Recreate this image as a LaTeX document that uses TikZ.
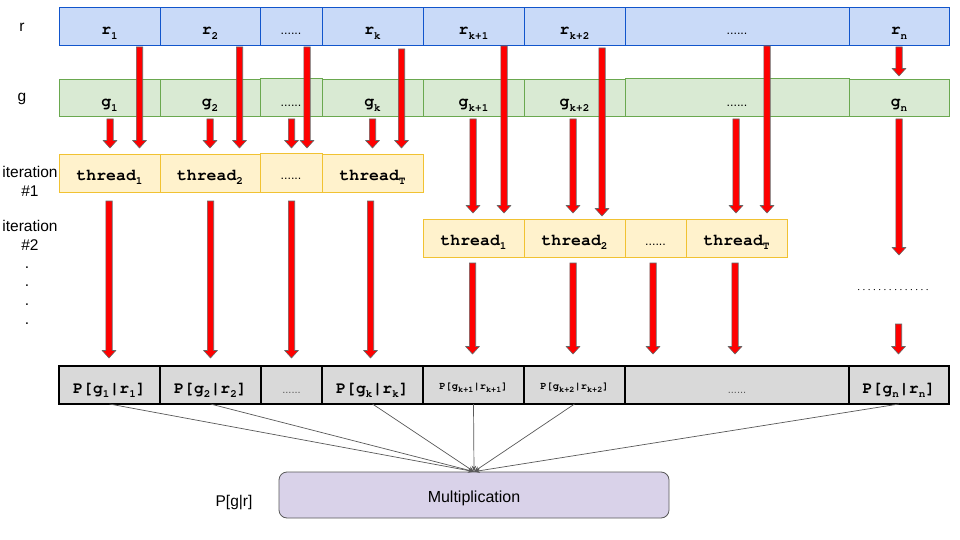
\documentclass[tikz,border=0pt]{standalone}
\usepackage[T1]{fontenc}
\usepackage{fontspec}
\setmainfont{Liberation Sans}
\newcommand\cour{\fontencoding{T1}\fontfamily{pcr}\fontseries{b}\fontshape{n}}
\newcommand\courm{\fontencoding{T1}\fontfamily{pcr}\fontseries{m}\fontshape{n}}
\usetikzlibrary{arrows.meta}
\definecolor{rfill}{HTML}{C9DAF8}
\definecolor{rdraw}{HTML}{1155CC}
\definecolor{gfill}{HTML}{D9EAD3}
\definecolor{gdraw}{HTML}{6AA84F}
\definecolor{tfill}{HTML}{FFF2CC}
\definecolor{tdraw}{HTML}{F1C232}
\definecolor{pfill}{HTML}{D9D9D9}
\definecolor{mfill}{HTML}{D9D2E9}
\definecolor{mdraw}{HTML}{595959}
\definecolor{cgray}{HTML}{595959}
\definecolor{agray}{HTML}{666666}
\newcommand\cs[2]{#1\raisebox{-4.5pt}{\fontsize{11}{11}\selectfont #2}}
\newcommand\css[2]{#1\raisebox{-3pt}{\fontsize{8.5}{8.5}\selectfont #2}}
\newcommand\cell[7]{\node[#6, minimum width={(#3-#2)*1pt}, minimum height={(#5-#4)*1pt}] (#1) at ({(#2+#3)/2},{(#4+#5)/2}) {#7};}
\newcommand\redarr[3]{\filldraw[redarrow] ({#1-3.2},#2) -- ({#1+3.2},#2) -- ({#1+3.2},{#3-7.5}) -- ({#1+6.8},{#3-7.5}) -- (#1,#3) -- ({#1-6.8},{#3-7.5}) -- ({#1-3.2},{#3-7.5}) -- cycle;}
\tikzset{
  basecell/.style={inner sep=0pt, outer sep=0pt, line width=0.9pt, text depth=0pt, font=\cour\fontsize{16.5}{16.5}\selectfont},
  cellr/.style={basecell, fill=rfill, draw=rdraw, text height=18pt},
  cellg/.style={basecell, fill=gfill, draw=gdraw, text height=19pt},
  cellt/.style={basecell, fill=tfill, draw=tdraw, text height=14pt},
  cellp/.style={basecell, fill=pfill, draw=black, line width=1.1pt, text height=16pt},
  smallp/.style={font=\cour\fontsize{10.5}{10.5}\selectfont, text height=9pt},
  dotsf/.style={font=\fontsize{12.5}{13}\selectfont},
  pdots/.style={font=\fontsize{11}{12}\selectfont, text=black!65},
  lbl/.style={font=\fontsize{15.5}{16}\selectfont, inner sep=0pt, anchor=base},
  redarrow/.style={fill=red, draw=agray, line width=0.6pt},
  conn/.style={draw=cgray, line width=0.7pt, -{Stealth[length=6pt,width=4.5pt]}}
}
\begin{document}
\begin{tikzpicture}[x=1pt,y=-1pt]
\useasboundingbox[fill=white] (0,0) rectangle (960,540);
% left labels
\node[lbl] (lr) at (22,31.7) {r};
\node[lbl] (lg) at (22,102) {g};
\node[lbl] (it1a) at (30,178) {iteration};
\node[lbl] (it1b) at (30,196.7) {\#1};
\node[lbl] (it2a) at (30,231.7) {iteration};
\node[lbl] (it2b) at (30,250) {\#2};
\node[lbl] (d1) at (27,268) {.};
\node[lbl] (d2) at (27,286) {.};
\node[lbl] (d3) at (27,305) {.};
\node[lbl] (d4) at (27,324) {.};
% r row
\cell{r1}{59}{160}{7}{45}{cellr}{\cs{r}{1}}
\cell{r2}{160}{260}{7}{45}{cellr}{\cs{r}{2}}
\cell{r3}{260}{322}{7}{45}{cellr,dotsf}{......}
\cell{rk}{322}{423}{7}{45}{cellr}{\cs{r}{k}}
\cell{rk1}{423}{524}{7}{45}{cellr}{\cs{r}{k+1}}
\cell{rk2}{524}{625}{7}{45}{cellr}{\cs{r}{k+2}}
\cell{r7}{625}{849}{7}{45}{cellr,dotsf}{......}
\cell{rn}{849}{949}{7}{45}{cellr}{\cs{r}{n}}
% g row
\cell{g1}{59}{160}{79}{116}{cellg}{\cs{g}{1}}
\cell{g2}{160}{260}{79}{116}{cellg}{\cs{g}{2}}
\cell{g3}{260}{322}{78}{116}{cellg,dotsf}{......}
\cell{gk}{322}{423}{79}{116}{cellg}{\cs{g}{k}}
\cell{gk1}{423}{524}{79}{116}{cellg}{\cs{g}{k+1}}
\cell{gk2}{524}{625}{79}{116}{cellg}{\cs{g}{k+2}}
\cell{g7}{625}{849}{78}{116}{cellg,dotsf}{......}
\cell{gn}{849}{949}{79}{116}{cellg}{\cs{g}{n}}
% thread row 1
\cell{ta1}{59}{160}{154}{192}{cellt}{\cs{thread}{1}}
\cell{ta2}{160}{260}{154}{192}{cellt}{\cs{thread}{2}}
\cell{ta3}{260}{322}{153}{192}{cellt,dotsf}{......}
\cell{taT}{322}{423}{154}{192}{cellt}{\cs{thread}{T}}
% thread row 2
\cell{tb1}{423}{524}{219}{257}{cellt}{\cs{thread}{1}}
\cell{tb2}{524}{625}{219}{257}{cellt}{\cs{thread}{2}}
\cell{tb3}{625}{686}{219}{257}{cellt,dotsf}{......}
\cell{tbT}{686}{787}{219}{257}{cellt}{\cs{thread}{T}}
% P row
\cell{p1}{59}{160}{366}{404}{cellp}{P[\cs{g}{1}|\cs{r}{1}]}
\cell{p2}{160}{261}{366}{404}{cellp}{P[\cs{g}{2}|\cs{r}{2}]}
\cell{p3}{261}{322}{366}{404}{cellp,pdots}{......}
\cell{pk}{322}{423}{366}{404}{cellp}{P[\cs{g}{k}|\cs{r}{k}]}
\cell{pk1}{423}{524}{366}{404}{cellp,smallp}{P[\css{g}{k+1}|\css{r}{k+1}]}
\cell{pk2}{524}{625}{366}{404}{cellp,smallp}{P[\css{g}{k+2}|\css{r}{k+2}]}
\cell{p7}{625}{849}{366}{404}{cellp,pdots}{......}
\cell{pn}{849}{949}{366}{404}{cellp}{P[\cs{g}{n}|\cs{r}{n}]}
% long dots
\node[font=\courm\fontsize{8.8}{9}\selectfont, inner sep=0pt] (ld) at (893,290) {..............};
% multiplication
\node[fill=mfill, draw=mdraw, line width=0.8pt, rounded corners=8pt, minimum width=390pt, minimum height=46pt, inner sep=0pt, text height=14pt, text depth=0pt, font=\fontsize{16}{16}\selectfont] (mult) at (474,495) {Multiplication};
\node[font=\fontsize{15.5}{16}\selectfont, inner sep=0pt, anchor=base] (pgr) at (234,506) {P[g|r]};
% connectors to multiplication
\foreach \n in {p1,p2,pk,pk1,pk2,pn} \draw[conn] (\n.south) -- (mult.north);
% red arrows from r row
\redarr{139.5}{47}{148}
\redarr{239.5}{47}{148}
\redarr{307}{47}{148}
\redarr{401.5}{49}{148}
\redarr{504}{46}{213}
\redarr{602}{48}{216}
\redarr{767}{46}{213}
\redarr{899}{47}{76}
% red arrows from g row
\redarr{110}{119}{148}
\redarr{210}{119}{148}
\redarr{291.5}{119}{148}
\redarr{372.5}{119}{148}
\redarr{473}{119}{213}
\redarr{573}{119}{213}
\redarr{736}{119}{213}
\redarr{899}{119}{255}
% red arrows thread row 1 to P
\redarr{109}{201}{358}
\redarr{210.5}{201}{358}
\redarr{291.5}{201}{358}
\redarr{370.5}{201}{358}
% red arrows thread row 2 to P
\redarr{472.5}{263}{354}
\redarr{573}{263}{354}
\redarr{653}{263}{354}
\redarr{735}{263}{354}
\redarr{898.5}{324}{354}
\end{tikzpicture}
\end{document}
